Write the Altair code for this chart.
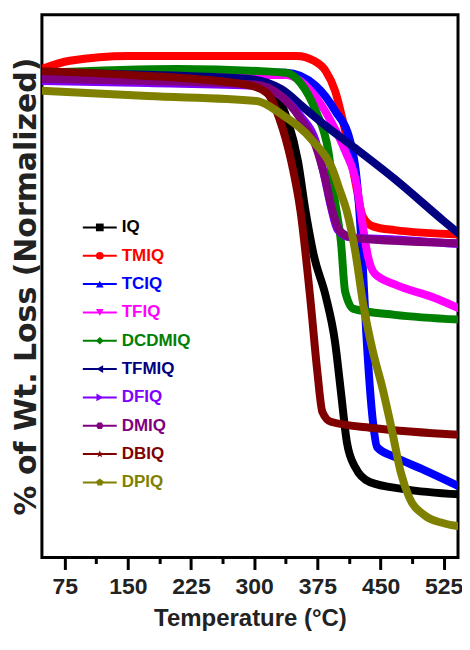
import altair as alt
import pandas as pd

series = ["IQ", "TMIQ", "TCIQ", "TFIQ", "DCDMIQ", "TFMIQ", "DFIQ", "DMIQ", "DBIQ", "DPIQ"]
colors = ["#000000", "#ff0000", "#0000ff", "#ff00ff", "#008000", "#000080",
          "#8000ff", "#800080", "#800000", "#808000"]

IQ_t = [48, 303, 326, 340, 352, 361, 371, 385, 396, 403, 410, 420, 437, 478, 546]
IQ_v = [89.3, 87.1, 85.0, 80.4, 73.0, 63.8, 55.5, 48.1, 39.7, 30.5, 21.3, 16.6, 13.9, 12.6, 11.6]

TMIQ_t = [48, 81, 151, 350, 371, 385, 396, 408, 420, 429, 441, 467, 546]
TMIQ_v = [90.0, 91.5, 92.4, 92.4, 91.5, 89.6, 86.0, 78.6, 69.3, 62.8, 61.0, 60.3, 59.5]

TCIQ_t = [48, 338, 373, 396, 414, 422, 428, 433, 441, 446, 467, 502, 546]
TCIQ_v = [89.3, 89.3, 86.9, 82.3, 76.7, 69.3, 56.4, 41.6, 25.0, 20.3, 18.5, 16.1, 12.9]

TFIQ_t = [48, 338, 367, 391, 408, 422, 429, 435, 443, 467, 513, 546]
TFIQ_v = [88.9, 88.9, 86.0, 80.4, 74.9, 68.4, 61.0, 55.5, 52.3, 50.3, 47.9, 45.7]

DCDMIQ_t = [48, 209, 338, 355, 373, 388, 396, 403, 408, 418, 467, 546]
DCDMIQ_v = [89.3, 90.0, 89.3, 87.4, 82.3, 74.9, 65.6, 58.2, 49.0, 45.8, 44.7, 43.8]

TFMIQ_t = [48, 291, 332, 361, 385, 420, 467, 525, 546]
TFMIQ_v = [89.3, 88.2, 86.3, 82.6, 79.5, 75.4, 69.7, 62.0, 59.3]

DFIQ_t = [48, 174, 303, 332, 355, 373, 382, 391, 399, 414, 467, 546]
DFIQ_v = [87.8, 87.4, 86.9, 85.0, 81.3, 76.7, 71.2, 64.7, 60.4, 59.0, 58.6, 57.7]

DMIQ_t = [48, 174, 303, 332, 355, 373, 385, 393, 402, 420, 546]
DMIQ_v = [88.2, 87.8, 87.1, 85.0, 80.8, 75.8, 69.3, 63.8, 60.1, 58.8, 57.9]

DBIQ_t = [48, 151, 291, 315, 330, 344, 355, 367, 375, 381, 391, 443, 546]
DBIQ_v = [89.6, 88.9, 87.1, 85.6, 80.8, 73.0, 63.8, 47.1, 34.2, 26.8, 25.0, 23.8, 22.6]

DPIQ_t = [48, 174, 303, 332, 370, 393, 402, 410, 420, 429, 441, 452, 464, 474, 484, 502, 525, 546]
DPIQ_v = [86.0, 85.0, 84.1, 81.7, 76.7, 71.5, 67.5, 63.8, 56.4, 47.1, 37.9, 31.4, 23.1, 15.7, 11.1, 7.8, 6.3, 5.7]

x_ticks = [75, 112.5, 150, 187.5, 225, 262.5, 300, 337.5, 375, 412.5, 450, 487.5, 525]

marker_shapes = [
    "square", "circle", "triangle-up", "triangle-down", "diamond",
    "triangle-left", "triangle-right",
    "M-1,0L-0.5,-0.866L0.5,-0.866L1,0L0.5,0.866L-0.5,0.866Z",
    "M0,-1L0.235,-0.324L0.951,-0.309L0.38,0.124L0.588,0.809L0,0.4L-0.588,0.809L-0.38,0.124L-0.951,-0.309L-0.235,-0.324Z",
    "M0,-1L0.951,-0.309L0.588,0.809L-0.588,0.809L-0.951,-0.309Z",
]

all_t = [IQ_t, TMIQ_t, TCIQ_t, TFIQ_t, DCDMIQ_t, TFMIQ_t, DFIQ_t, DMIQ_t, DBIQ_t, DPIQ_t]
all_v = [IQ_v, TMIQ_v, TCIQ_v, TFIQ_v, DCDMIQ_v, TFMIQ_v, DFIQ_v, DMIQ_v, DBIQ_v, DPIQ_v]

rows = []
for i, (s, ts, vs) in enumerate(zip(series, all_t, all_v)):
    for j, (t, v) in enumerate(zip(ts, vs)):
        rows.append({"series": s, "idx": j, "temp": t, "val": v})
df = pd.DataFrame(rows)
legend_df = pd.DataFrame({"series": series})

FONT = "Liberation Sans"

x_enc = alt.X("temp:Q", scale=alt.Scale(domain=[48, 542], nice=False, zero=False),
              axis=alt.Axis(values=x_ticks, grid=False, domain=False,
                            labelExpr="datum.value % 75 === 0 ? datum.label : ''",
                            tickSize={"condition": {"test": "datum.value % 75 === 0", "value": 12}, "value": 6},
                            tickWidth=3, tickColor="black",
                            labelFont=FONT, labelFontSize=23, labelFontWeight="bold",
                            labelColor="#222222", labelPadding=6,
                            title="Temperature (°C)", titleFont=FONT, titleFontSize=24,
                            titleFontWeight="bold", titleColor="#222222", titlePadding=8))
y_enc = alt.Y("val:Q", scale=alt.Scale(domain=[0, 100], nice=False, zero=False),
              axis=alt.Axis(labels=False, ticks=False, domain=False, grid=False,
                            title="% of Wt. Loss (Normalized)", titleFont="DejaVu Sans",
                            titleFontSize=30, titleFontWeight="bold", titleColor="#222222",
                            titlePadding=0))

color_scale = alt.Scale(domain=series, range=colors)
leg_y = alt.Y("series:N", scale=alt.Scale(domain=series, range=[199, 483]), axis=None)
leg_color = alt.Color("series:N", scale=color_scale, legend=None)

lines = alt.Chart(df).mark_line(strokeWidth=8, interpolate="monotone", clip=True,
                                strokeCap="round", strokeJoin="round").encode(
    x=x_enc, y=y_enc,
    color=alt.Color("series:N", scale=color_scale, legend=None),
    detail="series:N",
    order="idx:Q",
)

leg_base = alt.Chart(legend_df)
leg_rules = leg_base.mark_rule(strokeWidth=2).encode(
    x=alt.value(41), x2=alt.value(75), y=leg_y, color=leg_color)
leg_points = leg_base.mark_point(filled=True, size=60, opacity=1).encode(
    x=alt.value(58), y=leg_y, color=leg_color,
    shape=alt.Shape("series:N", scale=alt.Scale(domain=series, range=marker_shapes), legend=None))
leg_text = leg_base.mark_text(align="left", baseline="middle", font=FONT,
                              fontSize=17, fontWeight="bold").encode(
    x=alt.value(80), y=leg_y, color=leg_color, text="series:N")

chart = alt.layer(lines, leg_rules, leg_points, leg_text).resolve_scale(
    y="independent"
).properties(
    width=455, height=625,
    autosize=alt.AutoSizeParams(type="fit", contains="padding"),
    padding={"left": 4, "top": 6, "right": 0, "bottom": 2},
).configure_view(stroke="black", strokeWidth=3)

chart.save("out.html", embed_options={"renderer": "svg", "actions": False})
